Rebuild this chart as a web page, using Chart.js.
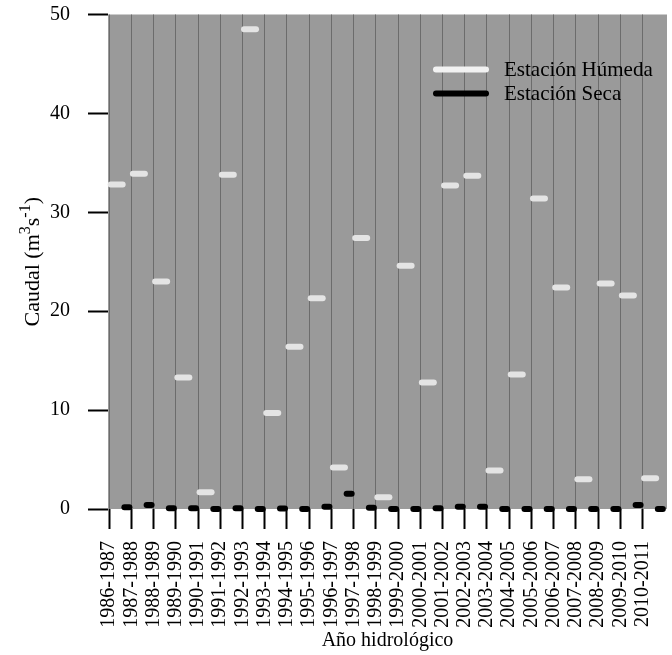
<!DOCTYPE html>
<html>
<head>
<meta charset="utf-8">
<script src="https://cdn.jsdelivr.net/npm/chart.js@4"></script>
<style>
  html, body { margin: 0; padding: 0; background: #fff; }
</style>
</head>
<body>
<canvas id="chart" width="672" height="655"></canvas>
<script>
const years = [
  "1986-1987", "1987-1988", "1988-1989", "1989-1990", "1990-1991",
  "1991-1992", "1992-1993", "1993-1994", "1994-1995", "1995-1996",
  "1996-1997", "1997-1998", "1998-1999", "1999-2000", "2000-2001",
  "2001-2002", "2002-2003", "2003-2004", "2004-2005", "2005-2006",
  "2006-2007", "2007-2008", "2008-2009", "2009-2010", "2010-2011",
];
const humeda = [
  32.8, 33.9, 23.0, 13.3, 1.7, 33.8, 48.5, 9.7, 16.4, 21.3,
  4.2, 27.4, 1.2, 24.6, 12.8, 32.7, 33.7, 3.9, 13.6, 31.4,
  22.4, 3.0, 22.8, 21.6, 3.1,
];
const seca = [
  0.17, 0.4, 0.07, 0.07, 0.0, 0.07, 0.0, 0.05, 0.0, 0.23,
  1.55, 0.13, 0.0, 0.0, 0.07, 0.23, 0.23, 0.0, 0.0, 0.0,
  0.0, 0.0, 0.0, 0.4, 0.0,
];
const yTicks = [0, 10, 20, 30, 40, 50];

const FONT = '"Liberation Serif", "DejaVu Serif", serif';
Chart.defaults.font.family = FONT;
Chart.defaults.color = "#000";

// each hydrological year: wet season first, dry season later in the same interval
const WET_OFFSET = 0.34;
const DRY_OFFSET = 0.8;

const plotBackground = {
  id: "plotBackground",
  beforeDraw(chart) {
    const { ctx, chartArea } = chart;
    ctx.save();
    ctx.fillStyle = "#9a9a9a";
    ctx.fillRect(chartArea.left, chartArea.top, chartArea.right - chartArea.left, chartArea.bottom - chartArea.top);
    ctx.restore();
  },
  beforeDatasetsDraw(chart) {
    chart.ctx.save();
    chart.ctx.lineCap = "round";
  },
  afterDatasetsDraw(chart) {
    chart.ctx.restore();
  },
};

const insideLegend = {
  id: "insideLegend",
  afterDraw(chart) {
    const { ctx, chartArea } = chart;
    const x0 = chartArea.right - 231;
    const y0 = chartArea.top + 55;
    ctx.save();
    ctx.lineCap = "round";
    ctx.lineWidth = 6;
    ctx.font = "21px " + FONT;
    ctx.textBaseline = "middle";
    chart.data.datasets.forEach((ds, i) => {
      const y = y0 + i * 24;
      ctx.strokeStyle = ds.legendColor;
      ctx.beginPath();
      ctx.moveTo(x0, y);
      ctx.lineTo(x0 + 50, y);
      ctx.stroke();
      ctx.fillStyle = "#000";
      ctx.fillText(ds.label, x0 + 68, y + 1);
    });
    ctx.restore();
  },
};

const yTitle = {
  id: "yTitle",
  afterDraw(chart) {
    const { ctx, chartArea } = chart;
    const parts = [
      { text: "Caudal (m", size: 22, rise: 0 },
      { text: "3", size: 16, rise: 9 },
      { text: "s", size: 22, rise: 0 },
      { text: "-1", size: 16, rise: 9 },
      { text: ")", size: 22, rise: 0 },
    ];
    ctx.save();
    ctx.translate(39, (chartArea.top + chartArea.bottom) / 2);
    ctx.rotate(-Math.PI / 2);
    ctx.fillStyle = "#000";
    ctx.textBaseline = "alphabetic";
    let total = 0;
    for (const p of parts) {
      ctx.font = p.size + "px " + FONT;
      p.w = ctx.measureText(p.text).width;
      total += p.w;
    }
    let x = -total / 2;
    for (const p of parts) {
      ctx.font = p.size + "px " + FONT;
      ctx.fillText(p.text, x, -p.rise);
      x += p.w;
    }
    ctx.restore();
  },
};

new Chart(document.getElementById("chart"), {
  type: "scatter",
  data: {
    datasets: [
      {
        label: "Estación Húmeda",
        data: humeda.map((v, i) => ({ x: i + WET_OFFSET, y: v })),
        pointStyle: "line",
        radius: 6,
        borderWidth: 6,
        borderColor: "#e4e4e4",
        backgroundColor: "#e4e4e4",
        legendColor: "#f2f2f2",
        clip: false,
      },
      {
        label: "Estación Seca",
        data: seca.map((v, i) => ({ x: i + DRY_OFFSET, y: v })),
        pointStyle: "line",
        radius: 2.5,
        borderWidth: 6,
        borderColor: "#000",
        backgroundColor: "#000",
        legendColor: "#000",
        clip: false,
      },
    ],
  },
  options: {
    responsive: false,
    animation: false,
    events: [],
    layout: {
      autoPadding: false,
      padding: { top: 14.5, right: 5, bottom: 0, left: 0 },
    },
    scales: {
      x: {
        type: "linear",
        min: -0.05,
        max: 25.1,
        afterBuildTicks: (scale) => {
          scale.ticks = years.map((_, i) => ({ value: i }));
        },
        afterFit: (scale) => {
          scale.height = 146;
          scale.paddingLeft = 0;
          scale.paddingRight = 0;
        },
        ticks: {
          autoSkip: false,
          minRotation: 90,
          maxRotation: 90,
          padding: 12,
          font: { size: 20 },
          callback: (value) => years[value],
        },
        grid: {
          color: "#6c6c6c",
          lineWidth: 1,
          tickColor: "#000",
          tickWidth: 2,
          tickLength: 20,
        },
        border: { display: false },
        title: {
          display: true,
          text: "Año hidrológico",
          font: { size: 20 },
          padding: { top: 0, bottom: 2 },
        },
      },
      y: {
        min: 0,
        max: 50,
        afterBuildTicks: (scale) => {
          scale.ticks = yTicks.map((v) => ({ value: v }));
        },
        afterFit: (scale) => {
          scale.width = 108;
          scale.paddingTop = 0;
          scale.paddingBottom = 0;
        },
        ticks: {
          padding: 18,
          font: { size: 20 },
        },
        grid: {
          drawOnChartArea: false,
          tickColor: "#000",
          tickWidth: 2,
          tickLength: 20,
        },
        border: { display: false },
      },
    },
    plugins: {
      legend: { display: false },
      tooltip: { enabled: false },
    },
  },
  plugins: [plotBackground, insideLegend, yTitle],
});
</script>
</body>
</html>
